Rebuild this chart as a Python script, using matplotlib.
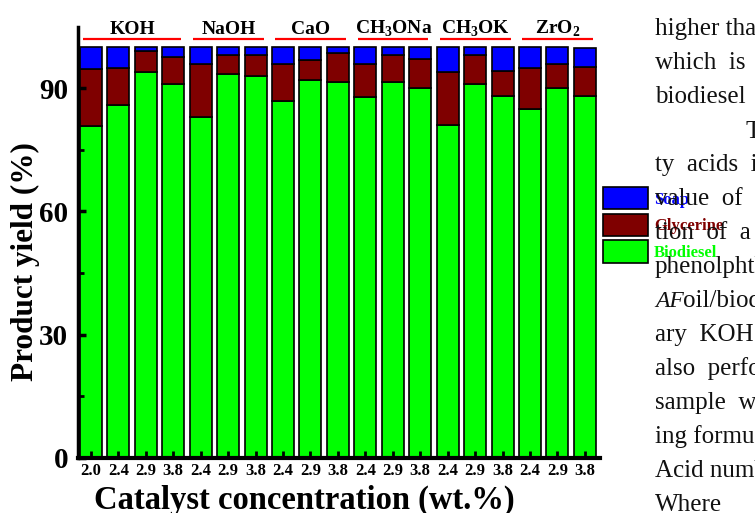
import numpy as np
import matplotlib
matplotlib.use('Agg')
import matplotlib.pyplot as plt

plt.rcParams['font.family'] = 'Liberation Serif'
plt.rcParams['font.weight'] = 'bold'
plt.rcParams['mathtext.fontset'] = 'custom'
plt.rcParams['mathtext.rm'] = 'Liberation Serif:bold'
plt.rcParams['mathtext.bf'] = 'Liberation Serif:bold'

# catalysts and loadings (wt.%)
catalysts = ['KOH', 'NaOH', 'CaO', 'CH$_3$ONa', 'CH$_3$OK', 'ZrO$_2$']
conc = [['2.0', '2.4', '2.9', '3.8'],
        ['2.4', '2.9', '3.8'],
        ['2.4', '2.9', '3.8'],
        ['2.4', '2.9', '3.8'],
        ['2.4', '2.9', '3.8'],
        ['2.4', '2.9', '3.8']]

# product yields (%)
biodiesel = [80.9, 85.9, 94.0, 91.2, 83.0, 93.5, 93.1, 86.9, 92.0, 91.7,
             87.9, 91.5, 90.1, 81.0, 91.0, 88.1, 84.9, 90.0, 88.1]
glycerine = [13.9, 9.0, 5.1, 6.4, 13.0, 4.6, 5.0, 9.1, 5.0, 6.9,
             8.1, 6.6, 7.0, 13.0, 7.1, 6.1, 10.0, 6.0, 7.1]
soap = [5.2, 5.1, 0.9, 2.4, 4.0, 1.9, 1.9, 4.0, 3.0, 1.4,
        4.0, 1.9, 2.9, 6.0, 1.9, 5.8, 5.1, 4.0, 4.8]

# neighbouring page text
page_lines = ['higher than', 'which  is  the', 'biodiesel', '', 'ty  acids  in',
              'value  of  the', 'tion  of  a  the', 'phenolphthalein',
              '', 'ary  KOH  with', 'also  performed',
              'sample  was', 'ing formula:', 'Acid number', 'Where']

labels = [c for grp in conc for c in grp]
x = np.arange(len(labels))
bio = np.array(biodiesel)
gly = np.array(glycerine)
sp = np.array(soap)

fig = plt.figure(figsize=(7.55, 5.13), dpi=100)
ax = fig.add_axes([78/755, 1-457.5/513, 522/755, 430.5/513])

w = 0.8
b1 = ax.bar(x, bio, w, color='#00ff00', edgecolor='black', linewidth=1.2, label='Biodiesel')
b2 = ax.bar(x, gly, w, bottom=bio, color='#7f0000', edgecolor='black', linewidth=1.2, label='Glycerine')
b3 = ax.bar(x, sp, w, bottom=bio+gly, color='#0000ff', edgecolor='black', linewidth=1.2, label='Soap')

ax.set_xlim(-0.47, 18.55)
ax.set_ylim(0, 105)
ax.set_yticks([0, 30, 60, 90])
ax.set_yticks([15, 45, 75], minor=True)
ax.set_xticks(x)
ax.set_xticklabels(labels, fontsize=12, fontweight='bold')
for t in ax.get_yticklabels():
    t.set_fontsize(21)
    t.set_fontweight('bold')
ax.tick_params(axis='y', which='major', direction='in', length=6, width=2.5, pad=7)
ax.tick_params(axis='y', which='minor', direction='in', length=4, width=2)
ax.tick_params(axis='x', direction='in', length=5, width=2, pad=4)
ax.spines['top'].set_visible(False)
ax.spines['right'].set_visible(False)
ax.spines['left'].set_linewidth(2.5)
ax.spines['bottom'].set_linewidth(3)

# catalyst group headers with red underline
start = 0
for name, grp in zip(catalysts, conc):
    end = start + len(grp) - 1
    ax.plot([start - 0.28, end + 0.3], [102.1, 102.1], color='red', lw=1.6,
            clip_on=False, solid_capstyle='butt')
    ax.text((start + end) / 2 + 0.02, 103.4, name, ha='center', va='baseline',
            fontsize=14, fontweight='bold', clip_on=False)
    start = end + 1

fig.text(25/755, 1-262/513, 'Product yield (%)', rotation=90, ha='center', va='center',
         fontsize=22.5, fontweight='bold')
fig.text(304/755, 1-500/513, 'Catalyst concentration (wt.%)', ha='center', va='center',
         fontsize=23.5, fontweight='bold')

# page text on the right
for i, line in enumerate(page_lines):
    if line:
        fig.text(655/755, 1-(35 + 34*i)/513, line, ha='left', va='baseline',
                 fontsize=18, fontweight='normal', color='#111111')
fig.text(745/755, 1-138/513, 'T', ha='left', va='baseline', fontsize=18,
         fontweight='normal', color='#111111')
fig.text(655/755, 1-(35 + 34*8)/513, 'AF', ha='left', va='baseline', fontsize=17,
         fontweight='normal', fontstyle='italic', color='#111111')
fig.text(683/755, 1-(35 + 34*8)/513, 'oil/biodiesel', ha='left', va='baseline',
         fontsize=18, fontweight='normal', color='#111111')

leg = ax.legend(handles=[b3, b2, b1], loc='upper left',
                bbox_to_anchor=(603/755, 1-187/513), bbox_transform=fig.transFigure,
                frameon=False, borderpad=0, borderaxespad=0,
                handlelength=2.7, handleheight=1.7,
                labelspacing=0.25, handletextpad=0.35,
                prop={'size': 12, 'weight': 'bold'},
                labelcolor=['#0000ff', '#7f0000', '#00ff00'])
leg.set_zorder(5)

fig.savefig('out.png', dpi=100)
